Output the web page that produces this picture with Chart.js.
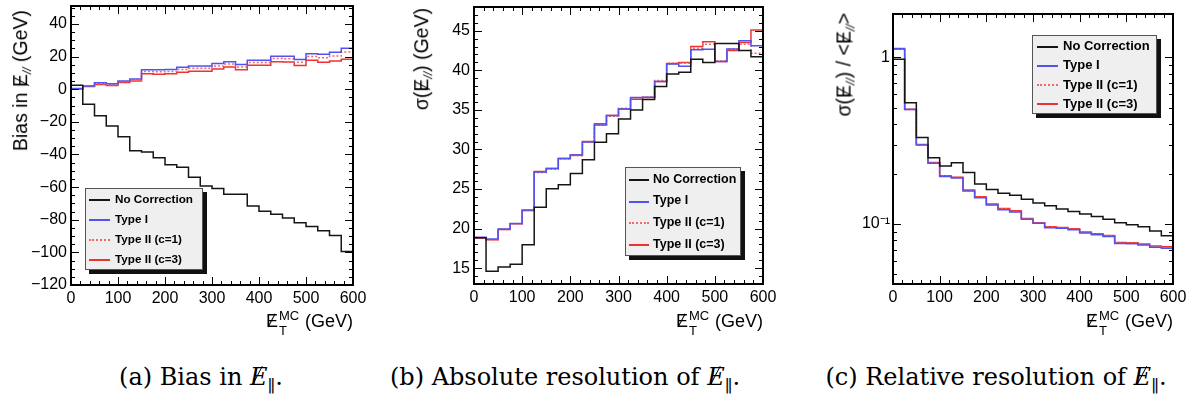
<!DOCTYPE html>
<html>
<head>
<meta charset="utf-8">
<script src="https://cdn.jsdelivr.net/npm/chart.js@4.4.0/dist/chart.umd.min.js"></script>
<style>
html, body { margin: 0; padding: 0; background: #fff; }
body { position: relative; width: 1196px; height: 401px; overflow: hidden; font-family: 'Liberation Sans', Arial, sans-serif; color: #000; }
canvas { position: absolute; top: 0; }
.xt { position: absolute; top: 312px; font-size: 18px; line-height: 1; white-space: nowrap; }
.yt { position: absolute; font-size: 19.5px; line-height: 1; white-space: nowrap; transform-origin: 100% 0; transform: rotate(-90deg); }
.yt sub { font-size: 0.62em; vertical-align: -0.3em; line-height: 0; font-style: italic; }
.met { position: relative; display: inline-block; }
.met::after { content: ''; position: absolute; left: 42%; top: 0.08em; width: 1.3px; height: 0.86em; background: #000; transform: rotate(28deg); }
.ss { position: relative; display: inline-block; width: 22px; height: 0.6em; }
.ss span { position: absolute; left: 1px; font-size: 13px; line-height: 1; }
.ss .up { top: -7px; }
.ss .dn { top: 8px; }
.leg { position: absolute; background: #efefef; border: 1px solid #555; box-shadow: 4px 4px 0 #111; font-weight: bold; display: flex; flex-direction: column; justify-content: space-around; box-sizing: border-box; }
.leg div { position: relative; white-space: nowrap; line-height: 1; }
.leg .ln { position: absolute; display: block; top: 50%; height: 0; }
.cap { position: absolute; top: 363px; font-family: 'DejaVu Serif', serif; font-size: 24px; white-space: nowrap; transform: translateX(-50%); }
.cap sub { font-size: 0.7em; vertical-align: -0.4em; line-height: 0; }
</style>
</head>
<body>
<canvas id="chartA" width="385" height="345" style="left:0px"></canvas>
<canvas id="chartB" width="400" height="345" style="left:390px"></canvas>
<canvas id="chartC" width="406" height="345" style="left:790px"></canvas>

<div class="yt" style="top:10px; right:1185px">Bias in <span class="met">E</span><sub>//</sub> (GeV)</div>
<div class="yt" style="top:8px; right:784px">&sigma;(<span class="met">E</span><sub>//</sub>) (GeV)</div>
<div class="yt" style="top:13px; right:361px">&sigma;(<span class="met">E</span><sub>//</sub>) / &lt;<span class="met">E</span><sub>//</sub>&gt;</div>

<div class="xt" style="right:843px"><span class="met">E</span><span class="ss"><span class="up">MC</span><span class="dn">T</span></span> (GeV)</div>
<div class="xt" style="right:433px"><span class="met">E</span><span class="ss"><span class="up">MC</span><span class="dn">T</span></span> (GeV)</div>
<div class="xt" style="right:23px"><span class="met">E</span><span class="ss"><span class="up">MC</span><span class="dn">T</span></span> (GeV)</div>

<div class="leg" id="legA" style="left:85px; top:188px; width:118px; height:82px; font-size:11.7px"></div>
<div class="leg" id="legB" style="left:625px; top:167px; width:116px; height:89px; font-size:12.5px"></div>
<div class="leg" id="legC" style="left:1032px; top:35px; width:125px; height:79px; font-size:13px"></div>

<div class="cap" style="left:201px">(a) Bias in <i class="met">E</i><sub>&#8741;</sub>.</div>
<div class="cap" style="left:565px">(b) Absolute resolution of <i class="met">E</i><sub>&#8741;</sub>.</div>
<div class="cap" style="left:996px">(c) Relative resolution of <i class="met">E</i><sub>&#8741;</sub>.</div>

<script>
// bins of true MET (GeV), lower edges + upper edge of last bin
const binLow = [0, 25, 50, 75, 100, 125, 150, 175, 200, 225, 250, 275,
                300, 325, 350, 375, 400, 425, 450, 475, 500, 525, 550, 575];
const binHigh = 600;

const seriesNames = ['No Correction', 'Type I', 'Type II (c=1)', 'Type II (c=3)'];

// (a) bias
const biasNoCorr = [2.5, -9.2, -16.3, -22.6, -29.2, -37.7, -38.5, -42.0, -46.3, -47.9, -54.0, -59.3,
                    -60.8, -64.4, -64.4, -71.6, -74.8, -76.7, -78.9, -81.8, -84.2, -86.7, -89.7, -99.5];
const biasTypeI = [0.4, 2.0, 3.9, 3.3, 5.1, 6.3, 12.0, 12.0, 12.1, 13.4, 14.3, 14.3,
                   15.7, 16.9, 15.1, 17.7, 17.7, 20.2, 20.2, 18.2, 21.8, 21.5, 22.6, 25.1];
const biasTypeII1 = [0.3, 1.8, 3.4, 2.8, 4.6, 5.7, 10.8, 10.7, 10.9, 12.1, 12.8, 12.8,
                     14.2, 15.4, 13.6, 16.3, 16.3, 18.8, 18.6, 16.5, 20.0, 19.3, 20.3, 22.8];
const biasTypeII3 = [0.2, 1.6, 2.9, 2.3, 4.1, 5.1, 9.4, 9.2, 9.4, 10.4, 11.0, 11.0,
                     12.4, 13.6, 12.0, 14.7, 14.7, 16.9, 16.7, 14.5, 17.7, 16.5, 17.3, 18.3];

// (b) absolute resolution
const sigNoCorr = [18.85, 14.6, 15.15, 15.5, 17.97, 22.7, 25.05, 25.55, 26.95, 28.7, 30.9, 32.0,
                   33.85, 35.0, 36.3, 37.95, 39.55, 39.75, 41.4, 41.0, 43.4, 43.4, 42.5, 41.7];
const sigTypeI = [18.9, 18.7, 19.95, 20.65, 22.35, 27.15, 27.6, 28.85, 29.3, 30.95, 33.1, 34.3,
                  35.1, 36.55, 36.6, 38.6, 40.8, 40.5, 42.6, 42.65, 41.1, 42.7, 43.75, 43.1];
const sigTypeII1 = [18.8, 18.6, 19.9, 20.6, 22.3, 27.1, 27.5, 28.8, 29.2, 30.9, 33.1, 34.2,
                    35.2, 36.5, 36.6, 38.7, 40.9, 40.9, 42.8, 43.3, 41.2, 42.7, 43.3, 42.15];
const sigTypeII3 = [18.8, 18.6, 19.9, 20.6, 22.3, 27.2, 27.6, 28.85, 29.3, 31.0, 33.25, 34.3,
                    35.1, 36.35, 36.55, 38.6, 40.85, 41.0, 43.0, 43.6, 41.1, 42.5, 43.5, 45.1];

// (c) relative resolution
const relNoCorr = [0.973, 0.534, 0.33, 0.25, 0.223, 0.233, 0.204, 0.174, 0.161, 0.153, 0.149, 0.141,
                   0.134, 0.129, 0.123, 0.119, 0.115, 0.111, 0.107, 0.102, 0.099, 0.0963, 0.0908, 0.085];
const relTypeI = [1.13, 0.486, 0.298, 0.232, 0.193, 0.189, 0.158, 0.144, 0.13, 0.122, 0.118, 0.107,
                  0.101, 0.0952, 0.0945, 0.0925, 0.0885, 0.0862, 0.0843, 0.0765, 0.0763, 0.0748, 0.0726, 0.0715];
const relTypeII1 = [1.12, 0.487, 0.299, 0.233, 0.194, 0.19, 0.159, 0.145, 0.131, 0.123, 0.119, 0.1075,
                    0.1015, 0.0958, 0.095, 0.093, 0.089, 0.087, 0.085, 0.077, 0.0768, 0.0754, 0.0732, 0.0722];
const relTypeII3 = [1.117, 0.488, 0.30, 0.234, 0.195, 0.191, 0.16, 0.146, 0.132, 0.124, 0.12, 0.108,
                    0.102, 0.0963, 0.0955, 0.0937, 0.0895, 0.0875, 0.0855, 0.0776, 0.0773, 0.0759, 0.0738, 0.0731];

// tick labels
const xTicks = [0, 100, 200, 300, 400, 500, 600];
const yTicksA = [-120, -100, -80, -60, -40, -20, 0, 20, 40];
const yTicksB = [15, 20, 25, 30, 35, 40, 45];
const yTicksC = [0.1, 1];
const yLabelsC = ['10\u207B\u00B9', '1'];

const styles = [
    { color: '#151515', dash: [] },
    { color: '#5252f0', dash: [] },
    { color: '#f06a6a', dash: [2, 2] },
    { color: '#ee3232', dash: [] }
];

function histPoints(vals) {
    const pts = binLow.map((x, i) => ({ x: x, y: vals[i] }));
    pts.push({ x: binHigh, y: vals[vals.length - 1] });
    return pts;
}

function steps(min, max, step) {
    const out = [];
    for (let v = min; v <= max + 1e-9; v += step) out.push(Math.round(v * 1000) / 1000);
    return out;
}

// ROOT-like frame with inward ticks on all four sides
const frameTicks = {
    id: 'frameTicks',
    afterDatasetsDraw(chart, args, o) {
        const { ctx, chartArea: { left, right, top, bottom }, scales: { x, y } } = chart;
        ctx.save();
        ctx.strokeStyle = '#000';
        ctx.lineWidth = 1;
        ctx.beginPath();
        const xt = (v, len) => {
            const p = Math.round(x.getPixelForValue(v)) + 0.5;
            ctx.moveTo(p, bottom); ctx.lineTo(p, bottom - len);
            ctx.moveTo(p, top); ctx.lineTo(p, top + len);
        };
        const yt = (v, len) => {
            const p = Math.round(y.getPixelForValue(v)) + 0.5;
            if (p < top || p > bottom) return;
            ctx.moveTo(left, p); ctx.lineTo(left + len, p);
            ctx.moveTo(right, p); ctx.lineTo(right - len, p);
        };
        o.xMinor.forEach(v => xt(v, 4));
        o.xMajor.forEach(v => xt(v, 8));
        o.yMinor.forEach(v => yt(v, 4));
        o.yMajor.forEach(v => yt(v, 8));
        ctx.stroke();
        ctx.lineWidth = 2;
        ctx.strokeRect(left, top, right - left, bottom - top);
        ctx.restore();
    }
};

const tickFont = { family: "'Liberation Sans', Arial, sans-serif", size: 16 };

function makeChart(id, series, cfg) {
    return new Chart(document.getElementById(id), {
        type: 'line',
        data: {
            datasets: series.map((vals, i) => ({
                label: seriesNames[i],
                data: histPoints(vals),
                stepped: 'before',
                borderColor: styles[i].color,
                borderDash: styles[i].dash,
                borderWidth: 1.5,
                pointRadius: 0,
                fill: false
            }))
        },
        options: {
            responsive: false,
            animation: false,
            events: [],
            layout: { padding: { left: 0, right: cfg.padRight, top: cfg.padTop, bottom: 0 } },
            plugins: {
                legend: { display: false },
                tooltip: { enabled: false },
                frameTicks: {
                    xMajor: xTicks,
                    xMinor: steps(0, 600, 20),
                    yMajor: cfg.yTicks,
                    yMinor: cfg.yMinor
                }
            },
            scales: {
                x: {
                    type: 'linear',
                    min: 0,
                    max: binHigh,
                    grid: { display: false, drawTicks: false },
                    border: { display: false },
                    ticks: { font: tickFont, color: '#000', padding: 4, autoSkip: false, maxRotation: 0 },
                    afterBuildTicks: s => { s.ticks = xTicks.map(v => ({ value: v })); },
                    afterFit: s => { s.height = cfg.xHeight; s.paddingLeft = 0; s.paddingRight = 0; }
                },
                y: {
                    type: cfg.log ? 'logarithmic' : 'linear',
                    min: cfg.yMin,
                    max: cfg.yMax,
                    grid: { display: false, drawTicks: false },
                    border: { display: false },
                    ticks: {
                        font: tickFont, color: '#000', padding: cfg.yPad, autoSkip: false,
                        callback: (v, i) => cfg.yLabels ? cfg.yLabels[i] : (v < 0 ? '\u2212' + Math.abs(v) : String(v))
                    },
                    afterBuildTicks: s => { s.ticks = cfg.yTicks.map(v => ({ value: v })); },
                    afterFit: s => { s.width = cfg.yWidth; s.paddingTop = 0; s.paddingBottom = 0; }
                }
            }
        },
        plugins: [frameTicks]
    });
}

makeChart('chartA', [biasNoCorr, biasTypeI, biasTypeII1, biasTypeII3], {
    yMin: -120, yMax: 51, yTicks: yTicksA, yMinor: steps(-120, 50, 5),
    yWidth: 71, xHeight: 60, padRight: 32, padTop: 6, yPad: 4
});
makeChart('chartB', [sigNoCorr, sigTypeI, sigTypeII1, sigTypeII3], {
    yMin: 13, yMax: 48, yTicks: yTicksB, yMinor: steps(13, 48, 1),
    yWidth: 84, xHeight: 61, padRight: 27, padTop: 7, yPad: 4
});
makeChart('chartC', [relNoCorr, relTypeI, relTypeII1, relTypeII3], {
    log: true, yMin: 0.0437, yMax: 1.82, yTicks: yTicksC, yLabels: yLabelsC,
    yMinor: [0.05, 0.06, 0.07, 0.08, 0.09, 0.2, 0.3, 0.4, 0.5, 0.6, 0.7, 0.8, 0.9],
    yWidth: 103, xHeight: 61, padRight: 23, padTop: 14, yPad: 3
});

// legends (ROOT style boxes inside the frames)
function fillLegend(id, lineLeft, lineWidth, textLeft) {
    const box = document.getElementById(id);
    seriesNames.forEach((name, i) => {
        const row = document.createElement('div');
        row.style.paddingLeft = textLeft + 'px';
        row.textContent = name;
        const ln = document.createElement('span');
        ln.className = 'ln';
        ln.style.left = lineLeft + 'px';
        ln.style.width = lineWidth + 'px';
        ln.style.borderTopWidth = '2px';
        ln.style.borderTopStyle = styles[i].dash.length ? 'dotted' : 'solid';
        ln.style.borderTopColor = styles[i].color;
        row.appendChild(ln);
        box.appendChild(row);
    });
}
fillLegend('legA', 3, 21, 29);
fillLegend('legB', 3, 20, 27);
fillLegend('legC', 4, 21, 30);
</script>
</body>
</html>
